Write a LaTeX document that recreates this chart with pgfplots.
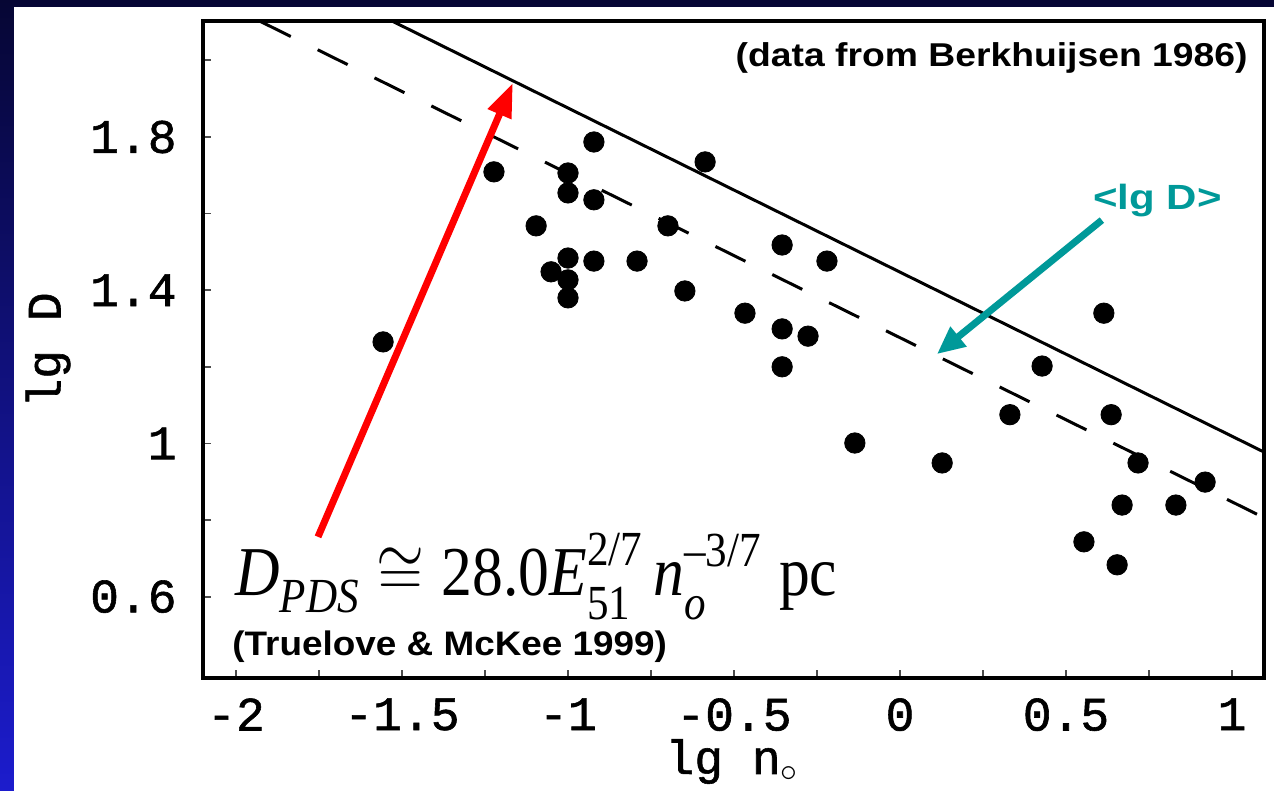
\documentclass[border=0pt]{standalone}
\usepackage{fix-cm}
\usepackage{amsmath}
\usepackage{graphicx}
\usepackage{fontspec}
\setmainfont{Liberation Sans}
\setmonofont{Liberation Mono}[FakeBold=1.2]
\newfontfamily\tnr{Liberation Serif}
\usepackage{pgfplots}
\pgfplotsset{compat=1.18}
\usetikzlibrary{arrows.meta}
\definecolor{teal}{RGB}{0,153,153}
\definecolor{navytop}{RGB}{6,6,52}
\definecolor{bluebot}{RGB}{28,28,205}
\newcommand{\T}[1]{\text{\tnr #1}}
\newcommand{\TI}[1]{\text{\tnr\itshape #1}}
\newcommand{\SUB}[1]{\text{\raisebox{-3pt}{\tnr #1}}}
\newcommand{\SUBI}[1]{\text{\raisebox{-3pt}{\tnr\itshape #1}}}
\newcommand{\SUP}[1]{\text{\raisebox{2pt}{\tnr #1}}}

\pgfplotstableread{
x y
-1.557 1.265
-1.223 1.709
-1.096 1.568
-1.051 1.448
-1.000 1.706
-1.000 1.654
-1.000 1.484
-1.000 1.427
-1.000 1.380
-0.922 1.787
-0.922 1.636
-0.922 1.476
-0.792 1.476
-0.699 1.568
-0.648 1.398
-0.587 1.735
-0.467 1.340
-0.355 1.518
-0.355 1.299
-0.355 1.200
-0.277 1.280
-0.220 1.476
-0.136 1.001
0.127 0.949
0.331 1.075
0.428 1.202
0.614 1.340
0.636 1.075
0.554 0.743
0.654 0.683
0.669 0.839
0.717 0.949
0.831 0.839
0.919 0.899
}\datatable

\begin{document}
\begin{tikzpicture}
\shade[top color=navytop, bottom color=bluebot] (0,0) rectangle (637pt,395.5pt);
\fill[white] (7pt,0) rectangle (637pt,392pt);
\begin{axis}[
  at={(101.5pt,56.5pt)}, anchor=south west,
  scale only axis, width=530.5pt, height=328.5pt,
  xmin=-2.0994, xmax=1.0964, ymin=0.3875, ymax=2.1029,
  axis line style={line width=2pt},
  tick pos=left, tick align=inside,
  major tick length=4pt,
  tick style={line width=0.9pt, color=black!70},
  xtick={-2,-1.75,-1.5,-1.25,-1,-0.75,-0.5,-0.25,0,0.25,0.5,0.75,1},
  xticklabels={-2,,-1.5,,-1,,-0.5,,0,,0.5,,1},
  ytick={0.6,0.8,1,1.2,1.4,1.6,1.8,2.0},
  yticklabels={0.6,,1,,1.4,,1.8,},
  ticklabel style={font=\ttfamily\fontsize{24}{28}\selectfont, inner sep=0pt},
  xticklabel style={anchor=north, yshift=-10pt},
  yticklabel style={anchor=east, xshift=-13pt},
  xlabel={lg n$_{\circ}$},
  ylabel={lg D},
  label style={font=\ttfamily\fontsize{24}{28}\selectfont},
  xlabel style={at={(axis description cs:0.4986,-0.1461)}, anchor=base},
  ylabel style={at={(axis description cs:-0.146,0.4992)}, anchor=center},
  clip=true,
]
% solid line: lg D = lg 28.0 - 3/7 lg n
\addplot[black, line width=1.5pt] coordinates {(-2.1,2.347) (1.2,0.933)};
% dashed line <lg D>
\addplot[black, line width=1.5pt, dash pattern=on 16.7pt off 15pt] coordinates {(-2.0964,2.1745) (1.2,0.7617)};
% data
\addplot[only marks, mark=*, mark size=5.1pt, black] table[x=x,y=y] {\datatable};
% annotations
\draw[red, line width=3.5pt, -{Triangle[length=17pt,width=12pt]}] (axis cs:-1.753,0.756) -- (axis cs:-1.166,1.941);
\draw[teal, line width=3.5pt, -{Triangle[length=14pt,width=12pt]}] (axis cs:0.608,1.583) -- (axis cs:0.111,1.233);
\node[anchor=base east, inner sep=0pt] at (axis cs:1.0482,1.9828)
  {\scalebox{1.13}[1]{\bfseries\fontsize{16.5}{19}\selectfont (data from Berkhuijsen 1986)}};
\node[anchor=base, inner sep=0pt, text=teal] at (axis cs:0.7756,1.6094)
  {\scalebox{1.2}[1]{\bfseries\fontsize{17.5}{20}\selectfont <lg D>}};
\node[anchor=base west, inner sep=0pt] at (axis cs:-2.003,0.6016)
  {\scalebox{0.88}[1]{\fontsize{35}{40}\selectfont $\TI{D}_{\SUBI{PDS}}\cong\T{28.0}\TI{E}^{\SUP{2/7}}_{\SUB{51}}\,\TI{n}^{\SUP{–3/7}}_{\SUBI{o}}\;\T{pc}$}};
\node[anchor=base west, inner sep=0pt] at (axis cs:-2.012,0.4475)
  {\scalebox{1.085}[1]{\bfseries\fontsize{17}{19}\selectfont (Truelove \& McKee 1999)}};
\end{axis}
\end{tikzpicture}
\end{document}
